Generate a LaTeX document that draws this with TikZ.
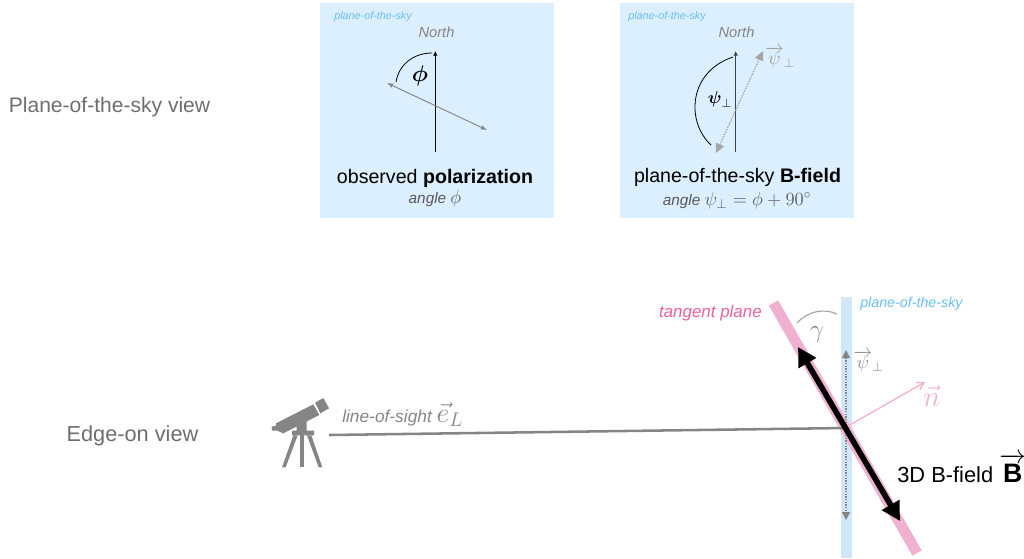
\documentclass[tikz,border=0pt]{standalone}
\usepackage{fix-cm}
\usepackage{amsmath}
\usepackage{fontspec}
\setmainfont{Liberation Sans}
\usetikzlibrary{arrows.meta}
\definecolor{panelblue}{HTML}{DBEFFE}
\definecolor{stripblue}{HTML}{CFE6FB}
\definecolor{skyblue}{HTML}{6BBEF5}
\definecolor{bandpink}{HTML}{EFB1CF}
\definecolor{tangentpink}{HTML}{E9619F}
\definecolor{softgray}{HTML}{858585}
\definecolor{viewgray}{HTML}{6E6E6E}
\newcommand{\psivec}{\overrightarrow{\vphantom{t}\smash{\psi}}_{\perp}}
\begin{document}
\begin{tikzpicture}[
        x=0.75pt, y=-0.75pt,
        panel/.style={fill=panelblue, draw=none, minimum width=175.5pt, minimum height=161.25pt, inner sep=0pt},
        skylabel/.style={text=skyblue, font=\itshape\fontsize{8.1}{10}\selectfont, inner sep=0pt},
        northlabel/.style={text=softgray, font=\itshape\fontsize{11}{13}\selectfont, inner sep=0pt},
        title/.style={text=black, font=\fontsize{14.7}{17}\selectfont, inner sep=0pt},
        subtitle/.style={text=black!65, font=\itshape\fontsize{11.5}{13}\selectfont, inner sep=0pt},
        viewlabel/.style={text=viewgray, font=\fontsize{15.8}{18}\selectfont, inner sep=0pt},
        northarrow/.style={-{Latex[length=3.5pt,width=3.5pt]}, line width=0.7pt},
        polarrow/.style={{Latex[length=4.5pt,width=3.5pt]}-{Latex[length=4.5pt,width=3.5pt]}, draw=softgray, line width=0.7pt},
        fieldarrow/.style={{Triangle[length=7pt,width=6.5pt]}-{Triangle[length=7pt,width=6.5pt]}, draw=black!35, densely dotted, line width=1pt},
        anglearc/.style={line width=0.6pt}
    ]
        \useasboundingbox (0,0) rectangle (1024,558);

        % Plane-of-the-sky panels.
        \node[panel] (leftpanel) at (437,110.5) {};
        \node[panel] (rightpanel) at (737,110.5) {};
        \node[viewlabel] (skyview) at (109.5,107) {Plane-of-the-sky view};
        \node[viewlabel, font=\fontsize{16.3}{18}\selectfont] (edgeview) at (132.5,436) {Edge-on view};

        % Left panel.
        \node[skylabel] (leftsky) at (373,17) {plane-of-the-sky};
        \node[northlabel] (leftnorth) at (436.5,32) {North};
        \coordinate (leftbase) at (435.3,152);
        \coordinate (lefttip) at (435.3,51);
        \coordinate (polstart) at (387,83);
        \coordinate (polend) at (487,130);
        \coordinate (phistart) at (396,82);
        \coordinate (phiend) at (432,53);
        \draw[northarrow] (leftbase) -- (lefttip);
        \draw[polarrow] (polstart) -- (polend);
        \draw[anglearc] (phistart) .. controls (399,64) and (414,53) .. (phiend);
        \node[inner sep=0pt, font=\fontsize{17}{19}\selectfont] (phi) at (420,76) {$\boldsymbol{\phi}$};
        \node[title] (lefttitle) at (435,178) {observed \textbf{polarization}};
        \node[subtitle] (leftsub) at (435,199) {angle \fontsize{14}{16}\selectfont$\phi$};

        % Right panel.
        \node[skylabel] (rightsky) at (667,17) {plane-of-the-sky};
        \node[northlabel] (rightnorth) at (736.5,32) {North};
        \coordinate (rightbase) at (735.7,152);
        \coordinate (righttip) at (735.7,51);
        \coordinate (fieldstart) at (716,153);
        \coordinate (fieldend) at (763,51);
        \coordinate (psistart) at (733,57);
        \coordinate (psiend) at (711,145);
        \draw[northarrow, draw=black!75] (rightbase) -- (righttip);
        \draw[fieldarrow] (fieldstart) -- (fieldend);
        \draw[anglearc] (psistart) .. controls (688,72) and (686,122) .. (psiend);
        \node[inner sep=0pt, font=\fontsize{13}{15}\selectfont] (psi) at (720,99) {$\boldsymbol{\psi}_{\perp}$};
        \node[inner sep=0pt, text=black!40, font=\fontsize{14}{16}\selectfont] (psivector) at (780,57) {$\psivec$};
        \node[title] (righttitle) at (737.5,177) {plane-of-the-sky \textbf{B-field}};
        \node[subtitle] (rightsub) at (737,201) {angle \fontsize{14}{16}\selectfont$\psi_{\perp}=\phi+90^{\circ}$};

        % Edge-on view: sky strip and tangent band.
        \fill[stripblue] (841,297) rectangle (852,558);
        \coordinate (bandtop) at (773.5,303);
        \coordinate (bandbottom) at (917,553);
        \draw[bandpink, line width=8pt] (bandtop) -- (bandbottom);
        \node[skylabel, anchor=west, font=\itshape\fontsize{10.7}{12}\selectfont] (edgesky) at (860,304) {plane-of-the-sky};
        \node[anchor=east, inner sep=0pt, text=tangentpink, font=\itshape\fontsize{12.7}{15}\selectfont] (tangent) at (762,313) {tangent plane};

        % Telescope.
        \begin{scope}[shift={(260,380)}, x=0.25pt, y=-0.25pt]
            \fill[softgray] (48,130) -- (160,73) -- (178,105) -- (70,160) -- (52,152) -- (36,152) -- (35,140) -- (48,137) -- cycle;
            \fill[softgray] (165,68) -- (190,54) -- (207,85) -- (181,100) -- cycle;
            \fill[softgray] (110,135) -- (140,120) -- (140,152) -- (162,152) -- (162,166) -- (96,166) -- (96,152) -- (110,152) -- cycle;
            \fill[softgray] (100,166) -- (113,166) -- (77,262) -- (66,262) -- cycle;
            \fill[softgray] (121,166) -- (133,166) -- (133,262) -- (121,262) -- cycle;
            \fill[softgray] (141,166) -- (154,166) -- (187,262) -- (176,262) -- cycle;
        \end{scope}

        % Line of sight and normal.
        \coordinate (scope) at (329,435);
        \coordinate (crossing) at (846,428);
        \coordinate (normal) at (925,382);
        \draw[softgray, line width=1.9pt] (scope) -- (crossing);
        \draw[bandpink, line width=1pt, -{Straight Barb[length=5pt,width=6pt]}] (848,426) -- (normal);
        \node[inner sep=0pt, text=bandpink, font=\fontsize{22}{24}\selectfont] (nvec) at (932,396) {$\vec{n}$};
        \node[inner sep=0pt, text=softgray, font=\itshape\fontsize{13}{15}\selectfont, anchor=base west] (los) at (342,422) {line-of-sight \fontsize{21}{23}\selectfont$\vec{e}_{L}$};

        % Gamma angle.
        \coordinate (gammastart) at (797,323);
        \coordinate (gammaend) at (837,314);
        \draw[black!35, line width=0.9pt] (gammastart) .. controls (808,311) and (824,308) .. (gammaend);
        \node[inner sep=0pt, text=softgray, font=\fontsize{19}{21}\selectfont] (gammalabel) at (817,334) {$\gamma$};

        % Projected field and 3D field.
        \coordinate (projtop) at (846,350);
        \coordinate (projbottom) at (846,520);
        \draw[softgray, densely dotted, line width=1pt, {Triangle[length=6pt,width=6pt]}-{Triangle[length=6pt,width=6pt]}] (projtop) -- (projbottom);
        \node[inner sep=0pt, text=softgray, font=\fontsize{14}{16}\selectfont] (projlabel) at (868.5,361) {$\psivec$};
        \coordinate (fieldtop) at (798,347);
        \coordinate (fieldbottom) at (900,521);
        \draw[black, line width=4.2pt, {Triangle[length=14pt,width=14.5pt]}-{Triangle[length=14pt,width=14.5pt]}] (fieldtop) -- (fieldbottom);
        \node[anchor=base west, inner sep=0pt, font=\fontsize{16.4}{19}\selectfont] (bfield) at (897,482) {3D B-field \fontsize{20}{22}\selectfont$\overrightarrow{\text{\textbf{B}}}$};
    \end{tikzpicture}
\end{document}
